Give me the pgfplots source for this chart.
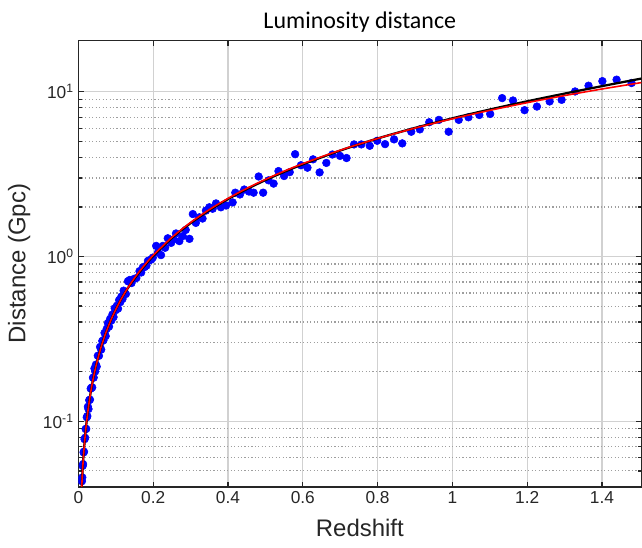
\documentclass[border=0pt]{standalone}
\usepackage{pgfplots}
\pgfplotsset{compat=1.18}
\usepackage{fontspec}
\setmainfont{Liberation Sans}
\newfontfamily\titlefont{Carlito}
\definecolor{axc}{rgb}{0.15,0.15,0.15}
\begin{document}
\begin{tikzpicture}
\begin{axis}[
  scale only axis,
  width=423pt, height=335.5pt,
  ymode=log,
  xmin=0, xmax=1.505,
  ymin=0.04, ymax=20.5,
  xtick={0,0.2,0.4,0.6,0.8,1,1.2,1.4},
  xticklabels={0,0.2,0.4,0.6,0.8,1,1.2,1.4},
  ytick={0.1,1,10},
  yticklabels={{10\textsuperscript{-1}},{10\textsuperscript{0}},{10\textsuperscript{1}}},
  minor ytick={0.04,0.05,0.06,0.07,0.08,0.09,0.2,0.3,0.4,0.5,0.6,0.7,0.8,0.9,2,3,4,5,6,7,8,9},
  tick align=inside,
  major tick length=4pt,
  minor tick length=2.5pt,
  tick style={axc, line width=1pt},
  axis line style={axc, line width=1.1pt},
  grid=both,
  major grid style={black!18, line width=1pt},
  minor grid style={black!38, line width=0.9pt, dash pattern=on 0.9pt off 1.7pt},
  ticklabel style={font=\fontsize{13}{15}\selectfont, text=axc},
  /pgf/number format/assume math mode=true,
  xlabel={Redshift},
  ylabel={Distance (Gpc)},
  label style={font=\fontsize{18}{21}\selectfont, text=axc},
  ylabel style={inner ysep=6pt},
  xlabel style={inner ysep=8pt},
  title={Luminosity distance},
  title style={font=\titlefont\fontsize{18}{21}\selectfont, inner ysep=9pt, yshift=-9.25pt},
  clip=true,
  clip marker paths=true,
]
\addplot[only marks, mark=*, mark size=2.9pt, color=blue, mark options={draw=blue, fill=blue}] coordinates {
(0.0095,0.0433)(0.0105,0.0456)(0.0115,0.0536)(0.0125,0.0550)(0.014,0.0647)(0.015,0.0654)
(0.0165,0.0779)(0.018,0.0794)(0.0195,0.0897)(0.021,0.0900)(0.0225,0.1058)(0.024,0.1075)
(0.0255,0.1225)(0.027,0.1187)(0.029,0.1343)(0.031,0.1353)(0.033,0.1578)(0.035,0.1597)
(0.037,0.1606)(0.039,0.1838)(0.041,0.1841)(0.043,0.2092)(0.045,0.2007)(0.047,0.2207)
(0.049,0.2146)(0.052,0.2498)(0.055,0.2496)(0.058,0.2826)(0.061,0.2723)(0.064,0.3073)
(0.067,0.3099)(0.070,0.3441)(0.073,0.3288)(0.076,0.3646)(0.079,0.3947)(0.082,0.3757)
(0.085,0.4184)(0.088,0.4084)(0.091,0.4447)(0.094,0.4290)(0.097,0.4852)(0.100,0.4725)
(0.103,0.5025)(0.106,0.4826)(0.109,0.5443)(0.112,0.5281)(0.115,0.5711)(0.118,0.5529)
(0.121,0.6207)(0.124,0.6014)(0.127,0.5923)
(0.1325,0.708)(0.135,0.705)(0.137,0.72)(0.142,0.69)(0.148,0.73)(0.155,0.74)
(0.1635,0.815)(0.168,0.80)(0.1725,0.86)(0.177,0.863)(0.182,0.88)(0.186,0.94)
(0.190,0.948)(0.195,0.96)(0.199,0.985)(0.208,1.16)(0.213,1.06)(0.221,1.02)
(0.226,1.16)(0.232,1.13)(0.239,1.29)(0.248,1.21)(0.254,1.27)(0.261,1.38)
(0.270,1.24)(0.279,1.33)(0.287,1.45)(0.297,1.28)(0.306,1.81)(0.314,1.60)
(0.3235,1.73)(0.332,1.70)(0.341,1.90)(0.350,1.99)(0.359,1.95)(0.368,2.10)
(0.381,1.99)(0.395,2.04)(0.4125,2.13)(0.4195,2.44)(0.432,2.38)(0.4435,2.55)
(0.456,2.48)(0.4685,2.44)(0.482,3.06)(0.494,2.44)(0.5085,2.90)(0.522,2.77)
(0.535,3.30)(0.550,3.08)(0.565,3.25)(0.5795,4.18)(0.595,3.58)(0.6125,3.46)
(0.6275,3.89)(0.645,3.24)(0.663,3.70)(0.679,4.16)(0.6995,4.08)(0.717,3.96)
(0.737,4.79)(0.7565,4.79)(0.779,4.70)(0.799,5.04)(0.820,4.81)(0.844,5.14)
(0.866,4.86)(0.890,5.72)(0.913,5.91)(0.938,6.53)(0.964,6.75)(0.990,5.72)
(1.017,6.75)(1.043,7.00)(1.072,7.23)(1.101,7.33)(1.133,9.15)(1.162,8.85)
(1.193,7.73)(1.226,8.13)(1.260,8.73)(1.292,8.93)(1.328,10.04)(1.364,10.88)
(1.401,11.6)(1.439,11.84)(1.479,11.3)
};
\addplot[black, line width=1.7pt, smooth] coordinates {
(0.0085,0.0380)(0.009,0.0402)(0.011,0.0493)(0.013,0.0583)(0.015,0.0674)(0.018,0.0811)
(0.021,0.0948)(0.025,0.1131)(0.03,0.1363)(0.035,0.1596)(0.04,0.1831)(0.045,0.2068)
(0.05,0.2304)(0.06,0.2785)(0.07,0.3273)(0.08,0.3765)(0.09,0.4266)(0.10,0.4772)
(0.11,0.5287)(0.12,0.5804)(0.13,0.6309)(0.14,0.6824)(0.15,0.7321)(0.16,0.7857)
(0.18,0.8945)(0.20,1.0060)(0.25,1.2935)(0.30,1.5939)(0.35,1.9062)(0.40,2.2300)
(0.45,2.5640)(0.50,2.9083)(0.55,3.2619)(0.60,3.6243)(0.70,4.3954)(0.80,5.2039)
(0.90,6.0346)(1.00,6.9010)(1.10,7.8031)(1.20,8.7504)(1.30,9.7467)(1.40,10.8172)
(1.50,11.9604)(1.51,12.08)
};
\addplot[red, line width=1.2pt, smooth] coordinates {
(0.0085,0.0380)(0.009,0.0402)(0.011,0.0493)(0.013,0.0583)(0.015,0.0674)(0.018,0.0811)
(0.021,0.0948)(0.025,0.1131)(0.03,0.1363)(0.035,0.1596)(0.04,0.1831)(0.045,0.2068)
(0.05,0.2304)(0.06,0.2785)(0.07,0.3273)(0.08,0.3765)(0.09,0.4266)(0.10,0.4772)
(0.11,0.5287)(0.12,0.5804)(0.13,0.6328)(0.14,0.6858)(0.15,0.7395)(0.16,0.7936)
(0.18,0.9035)(0.20,1.0162)(0.25,1.3066)(0.30,1.6100)(0.35,1.9255)(0.40,2.2525)
(0.45,2.5899)(0.50,2.9377)(0.55,3.2948)(0.60,3.6609)(0.70,4.4175)(0.80,5.2039)
(0.90,6.0166)(1.00,6.8530)(1.10,7.7106)(1.20,8.5872)(1.30,9.4812)(1.40,10.3912)
(1.50,11.3154)(1.51,11.41)
};
\end{axis}
\end{tikzpicture}
\end{document}
